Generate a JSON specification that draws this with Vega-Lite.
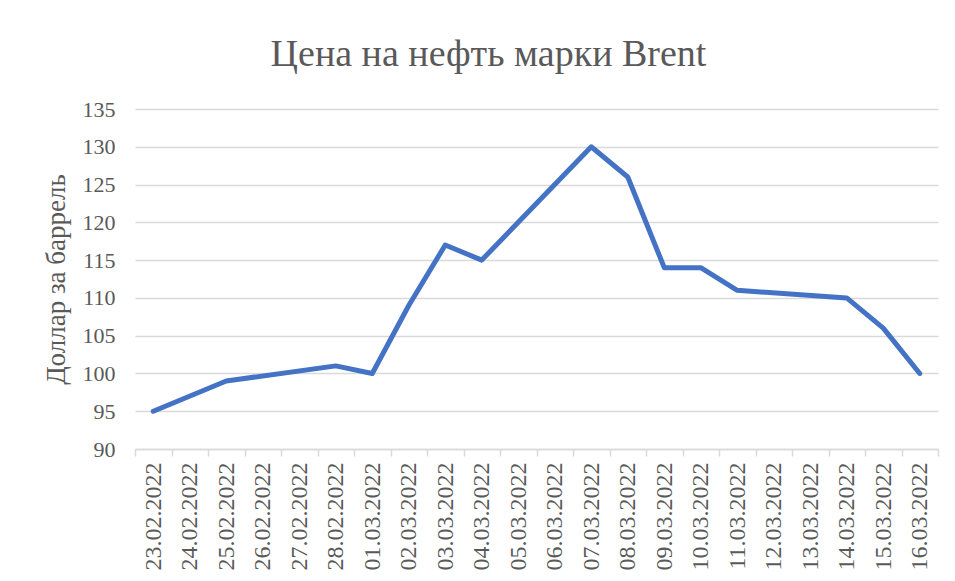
{
  "$schema": "https://vega.github.io/schema/vega-lite/v6.json",
  "autosize": {"type": "none"},
  "width": 803,
  "height": 340,
  "padding": {"left": 135, "top": 109, "right": 17, "bottom": 132},
  "background": "white",
  "config": {
    "font": "Liberation Serif",
    "view": {"stroke": null}
  },
  "title": {
    "text": "Цена на нефть марки Brent",
    "font": "Liberation Serif",
    "fontSize": 38,
    "fontWeight": "normal",
    "color": "#595959",
    "anchor": "middle",
    "dx": -48,
    "offset": 24
  },
  "data": {
    "values": [
      {"date": "23.02.2022", "price": 95},
      {"date": "25.02.2022", "price": 99},
      {"date": "28.02.2022", "price": 101},
      {"date": "01.03.2022", "price": 100},
      {"date": "02.03.2022", "price": 109},
      {"date": "03.03.2022", "price": 117},
      {"date": "04.03.2022", "price": 115},
      {"date": "07.03.2022", "price": 130},
      {"date": "08.03.2022", "price": 126},
      {"date": "09.03.2022", "price": 114},
      {"date": "10.03.2022", "price": 114},
      {"date": "11.03.2022", "price": 111},
      {"date": "14.03.2022", "price": 110},
      {"date": "15.03.2022", "price": 106},
      {"date": "16.03.2022", "price": 100}
    ]
  },
  "mark": {"type": "line", "color": "#4472C4", "strokeWidth": 5, "strokeJoin": "round", "strokeCap": "round"},
  "encoding": {
    "x": {
      "field": "date",
      "type": "ordinal",
      "sort": null,
      "scale": {
        "type": "band",
        "paddingInner": 0,
        "paddingOuter": 0,
        "domain": ["23.02.2022", "24.02.2022", "25.02.2022", "26.02.2022", "27.02.2022", "28.02.2022", "01.03.2022", "02.03.2022", "03.03.2022", "04.03.2022", "05.03.2022", "06.03.2022", "07.03.2022", "08.03.2022", "09.03.2022", "10.03.2022", "11.03.2022", "12.03.2022", "13.03.2022", "14.03.2022", "15.03.2022", "16.03.2022"]
      },
      "axis": {
        "title": null,
        "labelAngle": -90,
        "labelFont": "Liberation Serif",
        "labelFontSize": 24,
        "labelColor": "#595959",
        "labelPadding": 6,
        "tickBand": "extent",
        "tickColor": "#D9D9D9",
        "tickSize": 7,
        "tickWidth": 1.5,
        "domainColor": "#D9D9D9",
        "domainWidth": 1.5,
        "grid": false
      }
    },
    "y": {
      "field": "price",
      "type": "quantitative",
      "scale": {"domain": [90, 135], "nice": false, "zero": false},
      "axis": {
        "title": "Доллар за баррель",
        "titleFont": "Liberation Serif",
        "titleFontSize": 27,
        "titleFontWeight": "normal",
        "titleColor": "#595959",
        "titlePadding": 12,
        "values": [90, 95, 100, 105, 110, 115, 120, 125, 130, 135],
        "labelFont": "Liberation Serif",
        "labelFontSize": 22,
        "labelColor": "#595959",
        "labelPadding": 20,
        "ticks": false,
        "domain": false,
        "grid": true,
        "gridColor": "#D9D9D9",
        "gridWidth": 1.5
      }
    }
  }
}
